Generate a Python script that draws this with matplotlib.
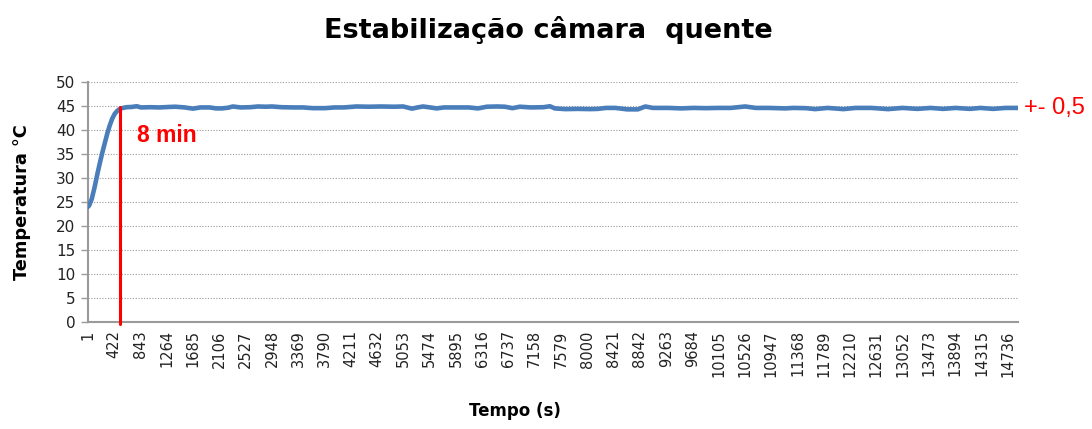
import matplotlib
matplotlib.use("Agg")
import matplotlib.pyplot as plt

# Temperature log of the hot chamber (time in s, temperature in °C)
tempo_s = [1, 20, 60, 110, 150, 190, 230, 270, 310, 350, 390, 430, 470, 510,
           560, 620, 700, 780, 850, 1000, 1150, 1300, 1400, 1550, 1680, 1800,
           1950, 2050, 2150, 2250, 2320, 2450, 2600, 2720, 2850, 2950, 3100,
           3300, 3450, 3600, 3800, 3950, 4100, 4300, 4500, 4700, 4900, 5050,
           5190, 5280, 5370, 5480, 5590, 5700, 5900, 6100, 6250, 6390, 6550,
           6680, 6800, 6920, 7100, 7300, 7400, 7480, 7650, 7850, 8050, 8170,
           8300, 8450, 8640, 8810, 8930, 9050, 9300, 9500, 9700, 9900, 10100,
           10300, 10530, 10700, 10900, 11170, 11300, 11500, 11650, 11850,
           12100, 12300, 12550, 12820, 13050, 13290, 13500, 13700, 13900,
           14130, 14300, 14500, 14700, 14900]
temperatura = [24.0, 24.3, 25.6, 28.3, 30.8, 33.1, 35.3, 37.3, 39.3, 41.0,
               42.4, 43.4, 44.0, 44.4, 44.6, 44.75, 44.8, 44.95, 44.7, 44.75,
               44.7, 44.8, 44.85, 44.7, 44.45, 44.7, 44.7, 44.5, 44.5, 44.65,
               44.9, 44.7, 44.75, 44.9, 44.85, 44.9, 44.75, 44.7, 44.7, 44.55,
               44.55, 44.7, 44.7, 44.9, 44.85, 44.9, 44.85, 44.9, 44.45, 44.7,
               44.9, 44.7, 44.5, 44.7, 44.7, 44.7, 44.5, 44.85, 44.9, 44.85,
               44.55, 44.85, 44.7, 44.75, 44.95, 44.5, 44.35, 44.4, 44.35,
               44.4, 44.6, 44.6, 44.3, 44.3, 44.9, 44.6, 44.6, 44.5, 44.6,
               44.55, 44.6, 44.6, 44.9, 44.6, 44.6, 44.5, 44.6, 44.55, 44.35,
               44.6, 44.35, 44.6, 44.6, 44.35, 44.6, 44.4, 44.6, 44.4, 44.6,
               44.4, 44.6, 44.4, 44.6, 44.6]

# Category labels shown along the time axis
rotulos_x = [1, 422, 843, 1264, 1685, 2106, 2527, 2948, 3369, 3790, 4211,
             4632, 5053, 5474, 5895, 6316, 6737, 7158, 7579, 8000, 8421,
             8842, 9263, 9684, 10105, 10526, 10947, 11368, 11789, 12210,
             12631, 13052, 13473, 13894, 14315, 14736]
rotulos_y = [0, 5, 10, 15, 20, 25, 30, 35, 40, 45, 50]

# Moment the chamber reaches steady state
t_estavel = 520
temp_estavel = 44.7
n_amostras = 14900

W, H = 1092, 429
fig = plt.figure(figsize=(W / 100, H / 100), dpi=100)
ax = fig.add_axes([88 / W, 1 - 322 / H, (1018 - 88) / W, (322 - 82) / H])

azul = "#4A7EBB"
vermelho = "#FF0000"
cinza = "#9A9A9A"

ax.plot(tempo_s, temperatura, color=azul, lw=3.3, solid_joinstyle="round",
        solid_capstyle="round", zorder=3)
ax.plot([t_estavel, t_estavel], [-0.5, temp_estavel], color=vermelho, lw=2.2,
        solid_capstyle="round", zorder=4, clip_on=False)

ax.set_xlim(0.5, n_amostras + 0.5)
ax.set_ylim(0, 50)
ax.set_yticks(rotulos_y)
ax.set_xticks(rotulos_x)
ax.set_xticklabels([str(v) for v in rotulos_x], rotation=90, va="top",
                   ha="center", fontsize=10.5, color="#222222")
ax.tick_params(axis="x", length=0, pad=6)
ax.tick_params(axis="y", length=5, width=1, color=cinza, labelsize=11,
               labelcolor="#222222", pad=4)

ax.yaxis.grid(True, linestyle=(0, (1, 1.5)), color="#999999", lw=0.8)
ax.set_axisbelow(True)
for lado in ("top", "right"):
    ax.spines[lado].set_visible(False)
for lado in ("left", "bottom"):
    ax.spines[lado].set_color(cinza)
    ax.spines[lado].set_linewidth(1.5)

ax.text(790, 38.9, "8 min", color=vermelho, fontsize=16.5,
        family="Liberation Sans", fontweight="bold", va="center", ha="left")
fig.text(1024 / W, 1 - 108 / H, "+- 0,5", color=vermelho, fontsize=17,
         family="Liberation Sans", va="center", ha="left")

fig.text(548 / W, 1 - 30 / H, "Estabilização câmara  quente", fontsize=19.5,
         fontweight="bold", ha="center", va="center")
fig.text(22 / W, 1 - 202 / H, "Temperatura °C", fontsize=12.8,
         fontweight="bold", rotation=90, ha="center", va="center")
fig.text(515 / W, 1 - 411 / H, "Tempo (s)", fontsize=12,
         fontweight="bold", ha="center", va="center")

fig.savefig("out.png", dpi=100)
